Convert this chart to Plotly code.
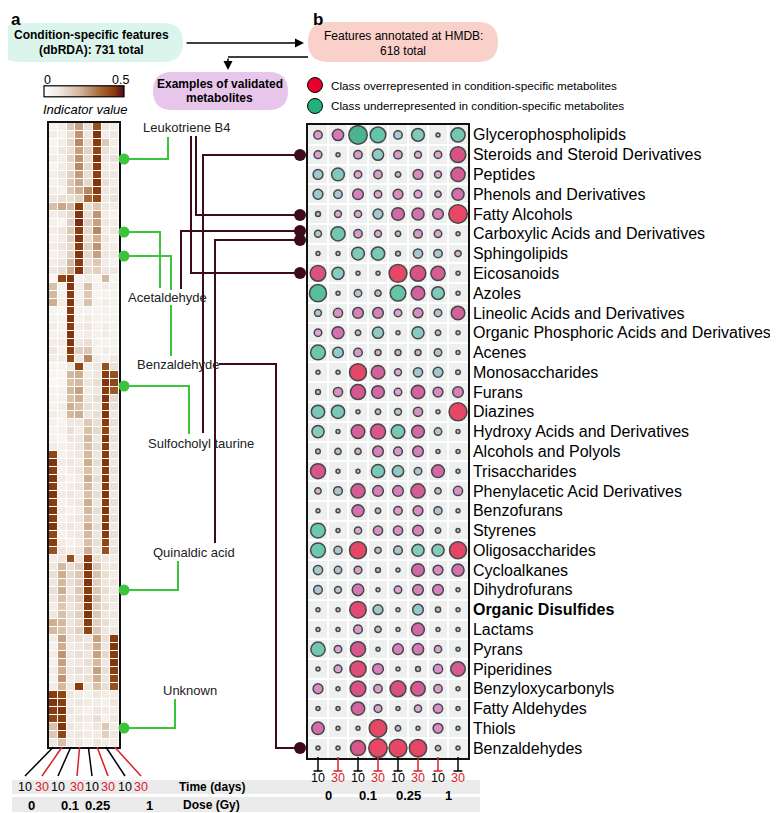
import plotly.graph_objects as go

# the page body adds an 8 px margin, so the figure is drawn 8 px in from the window corner
OFF = 8
W, H = 770, 805
def X(p): return (p - OFF) / W
def Y(p): return 1 - (p - OFF) / H

FONT = "Liberation Sans"

# ---------------- data ----------------
time_days = ["10", "30", "10", "30", "10", "30", "10", "30"]
dose_gy = ["0", "0.1", "0.25", "1"]

classes = [
    "Glycerophospholipids", "Steroids and Steroid Derivatives", "Peptides",
    "Phenols and Derivatives", "Fatty Alcohols", "Carboxylic Acids and Derivatives",
    "Sphingolipids", "Eicosanoids", "Azoles", "Lineolic Acids and Derivatives",
    "Organic Phosphoric Acids and Derivatives", "Acenes", "Monosaccharides", "Furans",
    "Diazines", "Hydroxy Acids and Derivatives", "Alcohols and Polyols", "Trisaccharides",
    "Phenylacetic Acid Derivatives", "Benzofurans", "Styrenes", "Oligosaccharides",
    "Cycloalkanes", "Dihydrofurans", "Organic Disulfides", "Lactams", "Pyrans",
    "Piperidines", "Benzyloxycarbonyls", "Fatty Aldehydes", "Thiols", "Benzaldehydes",
]
bold_class = "Organic Disulfides"

# signed enrichment (+ over-, - under-represented), one row per class, 8 conditions
enrichment = [
    [1.5, 2.5, -5.0, -4.0, -1.5, -3.0, 0.0, -3.5],
    [1.3, 0.0, 1.5, -2.5, 1.5, 1.0, 1.2, 4.0],
    [-2.0, -3.0, 1.2, 1.5, 0.5, 2.0, 1.0, 3.5],
    [-2.0, -1.5, 2.3, 1.2, 2.0, 1.3, 0.8, 2.8],
    [0.3, 1.0, 1.1, -2.0, 3.0, 2.8, 2.3, 5.0],
    [-1.0, -3.5, 1.5, 1.0, 0.5, 1.6, 1.2, 0.0],
    [0.0, 0.0, -3.0, -3.2, 0.3, -1.8, -1.5, 0.8],
    [4.0, -2.8, 0.0, 0.0, 4.8, 4.0, 3.5, 0.0],
    [-4.5, 0.0, -1.2, 0.8, -4.0, 3.3, -3.0, 0.0],
    [-1.0, 1.8, 2.3, 2.3, 1.2, 2.0, -1.2, 3.3],
    [1.2, 2.8, 0.5, -2.5, 0.0, -2.8, 0.5, 0.0],
    [-3.7, -2.3, 1.6, 0.7, 0.7, 0.7, -1.2, 0.0],
    [0.0, 0.0, 4.5, 3.3, 1.0, -1.8, -2.0, 0.2],
    [0.3, 1.8, 3.8, 3.0, 1.2, 3.3, 2.0, 2.3],
    [-3.2, -3.2, 0.0, 0.5, -1.0, 1.8, 0.0, 4.8],
    [-2.8, 0.0, 3.3, 3.8, -3.3, 3.0, -1.2, 0.0],
    [0.2, -0.8, 0.8, 2.3, 1.6, 2.3, 0.0, 0.0],
    [3.8, 0.0, 0.0, -3.2, -2.5, -1.2, 3.0, 0.0],
    [0.8, -1.6, 3.5, 2.3, 2.3, 3.5, 0.8, 1.8],
    [0.0, 0.0, 2.8, 0.5, 1.5, 2.0, -1.4, 0.0],
    [-3.7, 0.0, 1.1, 1.8, 1.8, 2.3, 0.5, 0.0],
    [-3.7, -1.4, 4.5, 0.8, -1.6, -2.8, -2.8, 4.5],
    [-1.8, -1.2, 1.3, 0.3, 0.0, 3.0, 2.0, 2.8],
    [-1.6, -1.0, 2.6, 0.0, 1.2, 2.3, 2.3, 0.0],
    [0.0, 0.0, 4.3, -2.0, 0.0, -2.3, 0.4, 0.0],
    [0.0, 0.0, 1.6, 0.8, 0.0, 3.0, 0.0, 0.0],
    [-3.5, 1.2, 3.8, 0.0, 2.3, 2.5, 1.1, 0.0],
    [0.0, 1.3, 4.2, 2.3, 0.0, 0.3, 1.8, 3.6],
    [2.0, 0.0, 4.0, 1.5, 4.1, 3.6, 1.5, 0.0],
    [0.0, 0.0, 3.2, 1.3, 0.0, 1.1, 1.8, 0.0],
    [2.9, 0.0, 0.0, 4.7, 0.5, 0.0, 2.0, 0.0],
    [0.0, 0.0, 3.8, 5.0, 4.8, 4.6, 0.5, 0.0],
]

# indicator values of condition-specific features (rows = features)
indicator = [
    [.06, .08, .18, .26, .12, .40, .10, .08],
    [.08, .06, .12, .28, .10, .45, .08, .10],
    [.05, .08, .14, .30, .12, .44, .18, .08],
    [.06, .10, .12, .26, .15, .42, .12, .08],
    [.08, .07, .15, .28, .12, .45, .10, .12],
    [.05, .08, .12, .30, .14, .44, .08, .08],
    [.07, .10, .16, .27, .12, .43, .10, .10],
    [.06, .08, .18, .25, .14, .45, .12, .08],
    [.08, .06, .18, .24, .30, .44, .10, .10],
    [.10, .12, .12, .16, .35, .42, .10, .12],
    [.20, .25, .22, .44, .12, .18, .10, .08],
    [.08, .10, .14, .45, .12, .28, .08, .06],
    [.06, .04, .16, .46, .16, .26, .10, .08],
    [.08, .10, .18, .44, .14, .30, .08, .10],
    [.06, .08, .16, .45, .12, .24, .10, .06],
    [.08, .10, .14, .44, .16, .28, .08, .08],
    [.06, .08, .16, .45, .14, .26, .10, .08],
    [.08, .10, .22, .44, .12, .18, .08, .06],
    [.10, .12, .24, .45, .14, .16, .10, .10],
    [.04, .42, .45, .06, .08, .05, .22, .05],
    [.20, .06, .45, .08, .20, .06, .08, .06],
    [.22, .06, .44, .06, .18, .05, .06, .06],
    [.24, .08, .45, .08, .20, .06, .08, .06],
    [.05, .04, .44, .06, .06, .05, .06, .05],
    [.06, .06, .45, .06, .08, .06, .06, .05],
    [.08, .06, .44, .08, .10, .06, .08, .06],
    [.06, .06, .45, .06, .08, .06, .08, .06],
    [.08, .08, .45, .10, .12, .06, .06, .06],
    [.10, .06, .44, .16, .18, .06, .08, .06],
    [.08, .08, .42, .10, .30, .08, .06, .10],
    [.05, .05, .10, .42, .08, .10, .40, .12],
    [.04, .04, .22, .24, .08, .10, .44, .40],
    [.03, .04, .20, .22, .10, .12, .45, .42],
    [.05, .06, .22, .26, .08, .10, .44, .38],
    [.06, .06, .20, .24, .10, .12, .45, .14],
    [.06, .08, .24, .20, .12, .10, .44, .12],
    [.08, .06, .22, .24, .10, .12, .45, .10],
    [.06, .05, .10, .10, .18, .12, .44, .12],
    [.05, .06, .12, .08, .20, .14, .42, .10],
    [.06, .04, .10, .10, .22, .10, .45, .12],
    [.08, .06, .08, .10, .20, .12, .44, .10],
    [.42, .06, .08, .10, .22, .10, .44, .12],
    [.45, .08, .10, .08, .24, .12, .45, .10],
    [.44, .06, .08, .10, .20, .10, .44, .12],
    [.45, .08, .06, .08, .24, .12, .45, .10],
    [.44, .06, .08, .10, .22, .10, .44, .12],
    [.45, .08, .10, .08, .20, .12, .45, .10],
    [.44, .06, .08, .10, .24, .10, .44, .12],
    [.45, .08, .06, .08, .22, .12, .45, .10],
    [.44, .06, .08, .10, .20, .10, .44, .12],
    [.45, .08, .10, .08, .24, .12, .45, .10],
    [.42, .06, .08, .10, .22, .10, .44, .12],
    [.44, .08, .06, .08, .20, .12, .42, .10],
    [.40, .10, .08, .10, .24, .10, .40, .12],
    [.08, .10, .40, .10, .44, .12, .10, .08],
    [.10, .22, .12, .16, .45, .18, .10, .10],
    [.12, .24, .14, .18, .44, .20, .12, .08],
    [.10, .22, .12, .16, .45, .16, .10, .10],
    [.12, .24, .10, .18, .44, .18, .12, .08],
    [.10, .20, .12, .16, .45, .20, .10, .10],
    [.08, .18, .10, .14, .44, .16, .12, .08],
    [.10, .20, .12, .16, .45, .18, .10, .10],
    [.24, .22, .10, .14, .44, .16, .12, .08],
    [.22, .20, .12, .16, .42, .18, .10, .10],
    [.08, .26, .10, .12, .10, .26, .12, .44],
    [.06, .24, .08, .10, .12, .24, .10, .45],
    [.08, .28, .10, .12, .10, .26, .14, .44],
    [.06, .26, .08, .10, .12, .22, .10, .45],
    [.08, .24, .10, .12, .10, .26, .12, .44],
    [.06, .28, .08, .10, .12, .24, .10, .42],
    [.08, .22, .10, .44, .10, .20, .12, .40],
    [.44, .42, .10, .08, .06, .10, .08, .08],
    [.45, .44, .08, .10, .08, .08, .06, .10],
    [.44, .45, .10, .08, .06, .10, .08, .08],
    [.42, .44, .08, .10, .08, .12, .06, .10],
    [.20, .45, .10, .08, .06, .10, .18, .08],
    [.18, .42, .08, .10, .08, .08, .16, .10],
    [.10, .20, .08, .10, .06, .10, .08, .08],
]

annotated_examples = ["Leukotriene B4", "Acetaldehyde", "Benzaldehyde",
                      "Sulfocholyl taurine", "Quinaldic acid", "Unknown"]

# ---------------- styling ----------------
RED = "#d8202a"
MAROON = "#3d0a1e"
GREEN = "#3cc43c"
n_rows = len(indicator)
n_cls = len(classes)

heat_scale = [[0, "#ffffff"], [0.2, "#efe7df"], [0.45, "#d2b79c"], [0.7, "#a8683a"],
              [0.88, "#8a3c0c"], [1.0, "#4d0a24"]]
bubble_scale = [[0.0, "#0a9a66"], [0.1, "#2bb38c"], [0.2, "#52bba8"], [0.3, "#82b6c2"],
                [0.4, "#a0b5c8"], [0.5, "#b0a6be"], [0.6, "#d68fc8"], [0.7, "#d062b4"],
                [0.8, "#c83088"], [0.9, "#d0105a"], [0.95, "#e0002e"], [1.0, "#e6002b"]]

fig = go.Figure()

HM_TOP, HM_BOT = 123, 747

# panel a heatmap
fig.add_trace(go.Heatmap(
    z=indicator, x=list(range(8)), y=list(range(n_rows)),
    colorscale=heat_scale, zmin=0, zmax=0.5, xgap=1, ygap=1,
    xaxis="x", yaxis="y", hoverinfo="skip",
    colorbar=dict(orientation="h", x=X(44), xanchor="left", y=Y(98), yanchor="bottom",
                  xpad=0, ypad=0,
                  len=80, lenmode="pixels", thickness=11, thicknessmode="pixels",
                  outlinewidth=1.2, outlinecolor="black", showticklabels=False, ticks=""),
))

# panel b bubbles
bx, by, bs, bc = [], [], [], []
for r, row in enumerate(enrichment):
    for c, v in enumerate(row):
        bx.append(c)
        by.append(r)
        bs.append(4 + 2.9 * abs(v))
        bc.append(v)
fig.add_trace(go.Scatter(
    x=bx, y=by, mode="markers", xaxis="x2", yaxis="y2", hoverinfo="skip",
    marker=dict(size=bs, color=bc, colorscale=bubble_scale, cmin=-5, cmax=5,
                line=dict(color="black", width=1.5), showscale=False),
))

bounds8 = [i + 0.5 for i in range(7)]
bounds_c = [i + 0.5 for i in range(n_cls - 1)]
ticktext = [f"<b>{c}</b>" if c == bold_class else c for c in classes]

fig.update_layout(
    width=W, height=H, margin=dict(l=0, r=0, t=0, b=0),
    paper_bgcolor="white", plot_bgcolor="white", showlegend=False,
    font=dict(family=FONT, color="black"),
    xaxis=dict(domain=[X(49), X(119)], range=[-0.5, 7.5], anchor="y",
               showticklabels=False, showgrid=False, zeroline=False, ticks="",
               showline=True, mirror=True, linecolor="#111", linewidth=1.5),
    yaxis=dict(domain=[Y(HM_BOT), Y(HM_TOP)], range=[n_rows - 0.5, -0.5], anchor="x",
               showticklabels=False, showgrid=False, zeroline=False, ticks="",
               showline=True, mirror=True, linecolor="#111", linewidth=1.5),
    xaxis2=dict(domain=[X(308), X(468)], range=[-0.5, 7.5], anchor="y2",
                showticklabels=False, showgrid=False, zeroline=False, ticks="",
                showline=True, mirror=True, linecolor="#111", linewidth=1.5,
                minor=dict(tickvals=bounds8, showgrid=True, gridcolor="white", gridwidth=2, ticks="")),
    yaxis2=dict(domain=[Y(758), Y(125)], range=[n_cls - 0.5, -0.5], anchor="x2", side="right",
                tickvals=list(range(n_cls)), ticktext=ticktext, ticks="",
                tickfont=dict(size=16, family=FONT, color="black"),
                showgrid=False, zeroline=False,
                showline=True, mirror=True, linecolor="#111", linewidth=1.5,
                minor=dict(tickvals=bounds_c, showgrid=True, gridcolor="white", gridwidth=2, ticks="")),
)

shapes = []
ann = []

def text(x, y, s, size=12, color="black", xanchor="center", bold=False, italic=False, yanchor="middle"):
    if bold:
        s = f"<b>{s}</b>"
    if italic:
        s = f"<i>{s}</i>"
    ann.append(dict(x=X(x), y=Y(y), xref="paper", yref="paper", text=s, showarrow=False,
                    xanchor=xanchor, yanchor=yanchor, font=dict(size=size, color=color, family=FONT)))

def line(pts, color, width=2):
    path = "M " + " L ".join(f"{X(a):.5f},{Y(b):.5f}" for a, b in pts)
    shapes.append(dict(type="path", path=path, xref="paper", yref="paper",
                       line=dict(color=color, width=width)))

def circle(cx, cy, r, fill, lc=None, lw=0):
    shapes.append(dict(type="circle", xref="paper", yref="paper",
                       x0=X(cx - r), x1=X(cx + r), y0=Y(cy + r), y1=Y(cy - r),
                       fillcolor=fill, line=dict(color=lc or fill, width=lw)))

def pill(x0, y0, x1, y1, fill):
    r = (y1 - y0) / 2
    p = (f"M {X(x0 + r)},{Y(y0)} L {X(x1 - r)},{Y(y0)} "
         f"Q {X(x1)},{Y(y0)} {X(x1)},{Y(y0 + r)} Q {X(x1)},{Y(y1)} {X(x1 - r)},{Y(y1)} "
         f"L {X(x0 + r)},{Y(y1)} Q {X(x0)},{Y(y1)} {X(x0)},{Y(y0 + r)} "
         f"Q {X(x0)},{Y(y0)} {X(x0 + r)},{Y(y0)} Z")
    shapes.append(dict(type="path", path=p, xref="paper", yref="paper",
                       fillcolor=fill, line=dict(width=0), layer="below"))

def arrow(x, y, dx, dy):
    ann.append(dict(x=X(x), y=Y(y), ax=dx, ay=dy, xref="paper", yref="paper",
                    axref="pixel", ayref="pixel", showarrow=True, arrowhead=2, arrowsize=1.2,
                    arrowwidth=1.5, arrowcolor="black", text=""))

# bubble panel background
shapes.append(dict(type="rect", xref="paper", yref="paper", x0=X(308), x1=X(468),
                   y0=Y(758), y1=Y(125), fillcolor="#edf0ef", line=dict(width=0), layer="below"))

# panel letters
text(9, 8, "a", size=17, bold=True, yanchor="top", xanchor="left")
text(311, 8, "b", size=17, bold=True, yanchor="top", xanchor="left")

# pills
pill(0, 23, 183, 62, "#dcf5ec")
text(91, 35, "Condition-specific features", size=12, bold=True)
text(91, 50, "(dbRDA): 731 total", size=12, bold=True)
pill(308, 22, 498, 62, "#f9d0ca")
text(403, 36, "Features annotated at HMDB:", size=12)
text(403, 51, "618 total", size=12)
pill(153, 72, 288, 110, "#e8c6ec")
text(220, 84, "Examples of validated", size=12, bold=True)
text(220, 98, "metabolites", size=12, bold=True)

# arrows
arrow(304, 43, -119, 0)
line([(308, 57), (228, 57)], "black", 1.5)
arrow(228, 70, 0, -13)

# colorbar labels
text(47, 80, "0", size=12.5)
text(120, 80, "0.5", size=12.5)
text(85, 109, "Indicator value", size=13, italic=True)

# legend
circle(315, 85, 7.5, "#e6002b", "black", 1)
text(329, 85, "Class overrepresented in condition-specific metabolites", size=11.7, xanchor="left")
circle(315, 106, 7.5, "#22b07c", "black", 1)
text(329, 106, "Class underrepresented in condition-specific metabolites", size=11.7, xanchor="left")

# example labels (panel a)
ex_pos = [(141, 127), (126, 297), (135, 364), (146, 443), (151, 552), (161, 690)]
for name, (x, y) in zip(annotated_examples, ex_pos):
    text(x, y, name, size=13, color="#222", xanchor="left")

# green connectors heatmap -> examples
line([(124, 159), (168, 159), (168, 137)], GREEN, 2)
line([(124, 232), (160, 232), (160, 288)], GREEN, 2)
line([(124, 256), (171, 256), (171, 290)], GREEN, 2)
line([(171, 305), (171, 356)], GREEN, 2)
line([(124, 386), (189, 386), (189, 434)], GREEN, 2)
line([(124, 590), (178, 590), (178, 561)], GREEN, 2)
line([(124, 728), (175, 728), (175, 699)], GREEN, 2)
for gy in [159, 232, 256, 386, 590, 728]:
    circle(124, gy, 5.5, GREEN)

# maroon connectors examples -> classes
line([(191, 136), (191, 273), (300, 273)], MAROON, 2)
line([(196, 136), (196, 215), (300, 215)], MAROON, 2)
line([(203, 433), (203, 155), (300, 155)], MAROON, 2)
line([(181, 289), (181, 231), (300, 231)], MAROON, 2)
line([(215, 543), (215, 240), (300, 240)], MAROON, 2)
line([(219, 364), (276, 364), (276, 748), (300, 748)], MAROON, 2)
for my in [155, 215, 231, 240, 273, 748]:
    circle(300, my, 6, MAROON)

# bottom bands
shapes.append(dict(type="rect", xref="paper", yref="paper", x0=X(12), x1=X(480),
                   y0=Y(794), y1=Y(780), fillcolor="#ebebeb", line=dict(width=0), layer="below"))
shapes.append(dict(type="rect", xref="paper", yref="paper", x0=X(12), x1=X(480),
                   y0=Y(812), y1=Y(797), fillcolor="#ebebeb", line=dict(width=0), layer="below"))
text(212, 787, "Time (days)", size=12, bold=True)
text(212, 805, "Dose (Gy)", size=12, bold=True)

# panel a time/dose labels with fan lines
lab_x_a = [25, 42, 58, 77, 92, 108, 125, 141]
for i, t in enumerate(time_days):
    col = "black" if t == "10" else RED
    cx = 49 + 70 / 8 * (i + 0.5)
    line([(cx, HM_BOT), (lab_x_a[i], 776)], col, 1.5)
    text(lab_x_a[i], 787, t, size=12.5, color=col)
for d, x in zip(dose_gy, [31, 70, 97, 149]):
    text(x, 805, d, size=13, bold=True)

# panel b tick marks and labels
tick_colors = ["black", RED, "black", RED, "black", RED, RED, "black"]
for i, t in enumerate(time_days):
    shapes.append(dict(type="line", xref="x2", yref="paper", x0=i, x1=i, y0=Y(757), y1=Y(771),
                       line=dict(color=tick_colors[i], width=1.5)))
    shapes.append(dict(type="line", xref="x2", yref="paper", x0=i - 0.22, x1=i + 0.22,
                       y0=Y(771), y1=Y(771), line=dict(color=tick_colors[i], width=1.5)))
    ann.append(dict(x=i, y=Y(787), xref="x2", yref="paper", text=t, showarrow=False,
                    font=dict(size=12.5, color="black" if t == "10" else RED, family=FONT)))
for k, d in enumerate(dose_gy):
    ann.append(dict(x=2 * k + 0.5, y=Y(805), xref="x2", yref="paper", text=f"<b>{d}</b>",
                    showarrow=False, font=dict(size=13, color="black", family=FONT)))

fig.update_layout(shapes=shapes, annotations=ann)
fig.write_html("out.html")
